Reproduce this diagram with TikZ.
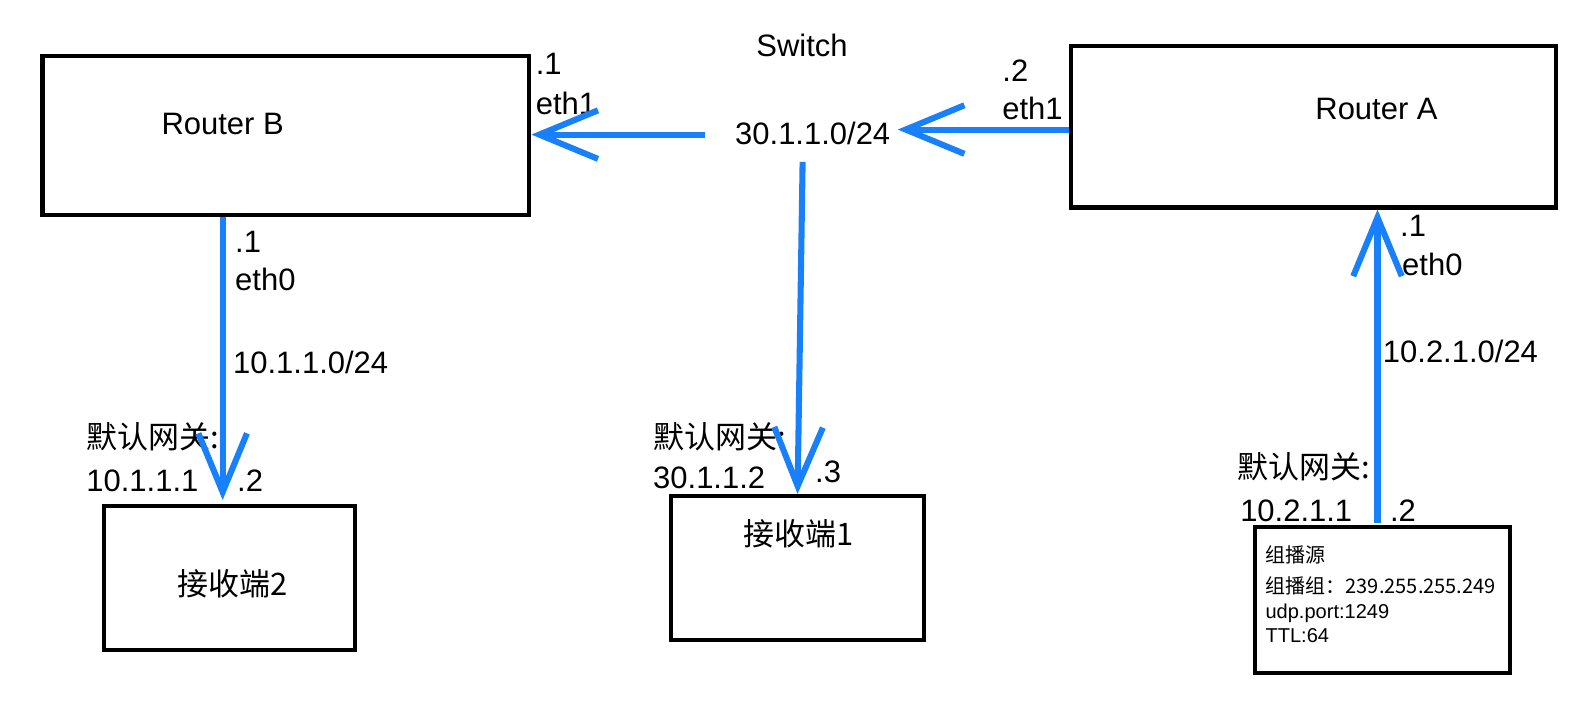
\documentclass[tikz,border=0pt]{standalone}
\usepackage{fontspec}
\setmainfont{Liberation Sans}
\newfontfamily\cjk{Noto Sans CJK SC}
\usetikzlibrary{arrows.meta}
\definecolor{linkblue}{RGB}{24,128,250}

\begin{document}
\begin{tikzpicture}[x=0.5pt, y=-0.5pt,
    box/.style={draw, line width=2pt, inner sep=0pt},
    link/.style={linkblue, line width=3pt, -{Straight Barb[length=29pt,width=24pt]}},
    lbl/.style={anchor=base west, inner sep=0pt, font=\fontsize{15.3}{18}\selectfont},
    title/.style={anchor=base, inner sep=0pt, font=\fontsize{15.3}{18}\selectfont},
    small/.style={anchor=base west, inner sep=0pt, font=\fontsize{9.9}{12}\selectfont}]
\useasboundingbox (0,0) rectangle (1568,697);
% boxes
\node[box, minimum width=240.5pt, minimum height=78.5pt] (rb) at (282.5,133.5) {};
\node[box, minimum width=239.5pt, minimum height=80pt] (ra) at (1297.5,125) {};
\node[box, minimum width=124pt, minimum height=71pt] (r2) at (227,571) {};
\node[box, minimum width=125pt, minimum height=71pt] (r1) at (788,561) {};
\node[box, minimum width=126pt, minimum height=72pt] (src) at (1366,593) {};
\node[title] (rbname) at (220,133) {Router B};
\node[title] (raname) at (1360,118) {Router A};
\node[title, font=\cjk\fontsize{15.3}{18}\selectfont] (r2name) at (230,588) {接收端2};
\node[title, font=\cjk\fontsize{15.3}{18}\selectfont] (r1name) at (789,539) {接收端1};
% switch
\node[lbl] (swname) at (747,56) {Switch};
\node[lbl] (net) at (726,143) {30.1.1.0/24};
% router B ports
\node[lbl] (rbip1) at (529,74) {.1};
\node[lbl] (rbeth1) at (529,113) {eth1};
\node[lbl] (rbip0) at (232,249) {.1};
\node[lbl] (rbeth0) at (232,287) {eth0};
\node[lbl] (net1) at (230,369) {10.1.1.0/24};
\node[lbl, font=\cjk\fontsize{15.3}{18}\selectfont] (gw2) at (85,443) {默认网关:};
\node[lbl] (gw2ip) at (85,486) {10.1.1.1};
\node[lbl] (r2ip) at (234,486) {.2};
% receiver 1
\node[lbl, font=\cjk\fontsize{15.3}{18}\selectfont] (gw1) at (645,443) {默认网关:};
\node[lbl] (gw1ip) at (645,483) {30.1.1.2};
\node[lbl] (r1ip) at (805,477) {.3};
% router A ports
\node[lbl] (raip1) at (990,81) {.2};
\node[lbl] (raeth1) at (990,118) {eth1};
\node[lbl] (raip0) at (1383,234) {.1};
\node[lbl] (raeth0) at (1385,272) {eth0};
\node[lbl] (net2) at (1366,358) {10.2.1.0/24};
\node[lbl, font=\cjk\fontsize{15.3}{18}\selectfont] (gw3) at (1222,473) {默认网关:};
\node[lbl] (gw3ip) at (1225,515) {10.2.1.1};
\node[lbl] (srcip) at (1373,515) {.2};
% source text
\node[small, font=\cjk\fontsize{9.9}{12}\selectfont] (srcname) at (1250,556) {组播源};
\node[small, font=\cjk\fontsize{9.9}{12}\selectfont] (srcgrp) at (1250,586) {组播组：239.255.255.249};
\node[small] (srcport) at (1250,611) {udp.port:1249};
\node[small] (srcttl) at (1250,635) {TTL:64};
% links
\coordinate (swl) at (697,133);
\coordinate (swr) at (887,128);
\coordinate (swd) at (793,160);
\coordinate (rbd) at (220,214);
\coordinate (srcu) at (1361,517);
\draw[link] (swl) -- (rb.east |- swl);
\draw[link] (ra.west |- swr) -- (swr);
\draw[link] (swd) -- (r1.north);
\draw[link] (rbd) -- ([yshift=2pt]rbd |- r2.north);
\draw[link] (srcu) -- (srcu |- ra.south);
\end{tikzpicture}
\end{document}
